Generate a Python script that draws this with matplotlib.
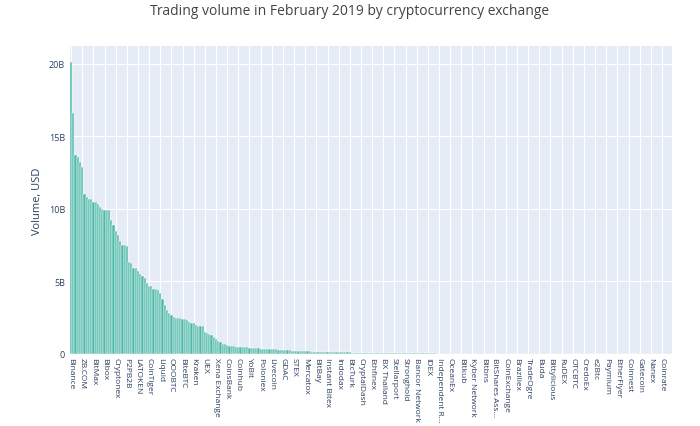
import matplotlib
matplotlib.use("Agg")
import matplotlib.pyplot as plt
import numpy as np
from matplotlib.ticker import FuncFormatter

plt.rcParams["font.family"] = "Open Sans"

# Trading volume (billions USD), sorted descending, 270 exchanges
volumes_b = [
    20.1, 16.6, 13.7, 13.6, 13.2, 12.9, 11.0, 10.8, 10.7, 10.65,
    10.5, 10.45, 10.3, 10.1, 10.0, 9.95, 9.95, 9.9, 9.2, 8.9,
    8.5, 8.2, 7.8, 7.5, 7.5, 7.45, 6.3, 6.25, 5.95, 5.9,
    5.7, 5.5, 5.4, 5.2, 4.9, 4.7, 4.65, 4.45, 4.45, 4.4,
    4.2, 3.8, 3.4, 3.0, 2.8, 2.65, 2.55, 2.5, 2.45, 2.45,
    2.4, 2.4, 2.35, 2.2, 2.15, 2.1, 2.0, 1.95, 1.9, 1.9,
    1.5, 1.45, 1.4, 1.3, 1.15, 1.0, 0.9, 0.8, 0.7, 0.65,
    0.6, 0.55, 0.54, 0.52, 0.5, 0.49, 0.47, 0.46, 0.45, 0.44,
    0.43, 0.42, 0.4, 0.39, 0.38, 0.36, 0.35, 0.34, 0.33, 0.32,
    0.31, 0.3, 0.3, 0.29, 0.28, 0.27, 0.26, 0.25, 0.24, 0.23,
    0.22, 0.21, 0.2, 0.2, 0.19, 0.18, 0.18, 0.17, 0.16, 0.16,
    0.15, 0.15, 0.14, 0.14, 0.13, 0.13, 0.12, 0.12, 0.12, 0.11,
    0.11, 0.11, 0.1, 0.1, 0.1, 0.095, 0.09, 0.09, 0.085, 0.08,
    0.08, 0.075, 0.075, 0.07, 0.07, 0.065, 0.065, 0.06, 0.06, 0.058,
    0.055, 0.053, 0.05, 0.048, 0.046, 0.044, 0.042, 0.04, 0.038, 0.036,
    0.035, 0.034, 0.033, 0.032, 0.031, 0.03, 0.029, 0.028, 0.027, 0.026,
    0.025, 0.025, 0.024, 0.024, 0.023, 0.023, 0.022, 0.022, 0.021, 0.021,
    0.02, 0.02, 0.02, 0.019, 0.019, 0.018, 0.018, 0.018, 0.017, 0.017,
    0.016, 0.016, 0.016, 0.015, 0.015, 0.015, 0.014, 0.014, 0.014, 0.013,
    0.013, 0.013, 0.012, 0.012, 0.012, 0.011, 0.011, 0.011, 0.011, 0.01,
    0.01, 0.01, 0.01, 0.009, 0.009, 0.009, 0.009, 0.008, 0.008, 0.008,
    0.008, 0.008, 0.007, 0.007, 0.007, 0.007, 0.007, 0.006, 0.006, 0.006,
    0.006, 0.006, 0.006, 0.005, 0.005, 0.005, 0.005, 0.005, 0.005, 0.005,
    0.004, 0.004, 0.004, 0.004, 0.004, 0.004, 0.004, 0.004, 0.003, 0.003,
    0.003, 0.003, 0.003, 0.003, 0.003, 0.003, 0.003, 0.003, 0.002, 0.002,
    0.002, 0.002, 0.002, 0.002, 0.002, 0.002, 0.002, 0.002, 0.002, 0.002,
    0.002, 0.001, 0.001, 0.001, 0.001, 0.001, 0.001, 0.001, 0.001, 0.001,
]

# Labels shown on the axis (every 5th exchange)
tick_labels = [
    "Binance", "ZB.COM", "BitMax", "Bibox", "Cryptonex", "P2PB2B", "LATOKEN",
    "CoinTiger", "Liquid", "OOOBTC", "BiteBTC", "Kraken", "UEX", "Xena Exchange",
    "CoinsBank", "Coinhub", "YoBit", "Poloniex", "Livecoin", "GDAC", "STEX",
    "Mercatox", "BitBay", "Instant Bitex", "Indodax", "BtcTurk", "CryptalDash",
    "Ethfinex", "BX Thailand", "Stellarport", "Stronghold", "Bancor Network",
    "IDEX", "Independent R...", "OceanEx", "Bitkub", "Kyber Network", "Bitbns",
    "BitShares Ass...", "CoinExchange", "Braziliex", "TradeOgre", "Buda",
    "Bittylicious", "RuDEX", "OTCBTC", "CredoEx", "e2Btc", "Paymium",
    "EtherFlyer", "Coinnest", "Gatecoin", "Nanex", "Coinrate",
]
tick_step = 5

fig = plt.figure(figsize=(7, 4.27), dpi=100)
ax = fig.add_axes([0.1, 0.169, 0.86, 0.72])
ax.set_facecolor("#e5ecf6")
x = np.arange(len(volumes_b))
ax.bar(x, np.array(volumes_b) * 1e9, width=1.0, color="#4fb9a8",
       edgecolor="white", linewidth=0.35, zorder=2)
ax.set_xlim(-0.5, len(volumes_b) - 0.5)
ax.set_ylim(0, 21.2e9)
ax.set_yticks([0, 5e9, 10e9, 15e9, 20e9])
ax.yaxis.set_major_formatter(FuncFormatter(lambda v, p: "0" if v == 0 else f"{v/1e9:.0f}B"))
ticks = [i * tick_step for i in range(len(tick_labels))]
ax.set_xticks(ticks)
ax.set_xticklabels(tick_labels, rotation=270, fontsize=6, color="#2a3f5f")
ax.tick_params(axis="y", labelsize=6.5, colors="#2a3f5f", length=0)
ax.tick_params(axis="x", length=0, pad=2)
ax.grid(True, color="white", linewidth=0.8, zorder=0)
ax.set_axisbelow(True)
for s in ax.spines.values():
    s.set_visible(False)
ax.set_ylabel("Volume, USD", fontsize=8, color="#2a3f5f")
fig.suptitle("Trading volume in February 2019 by cryptocurrency exchange",
             fontsize=10, color="#444444", y=0.99)
fig.savefig("out.png", dpi=100, facecolor="white")
